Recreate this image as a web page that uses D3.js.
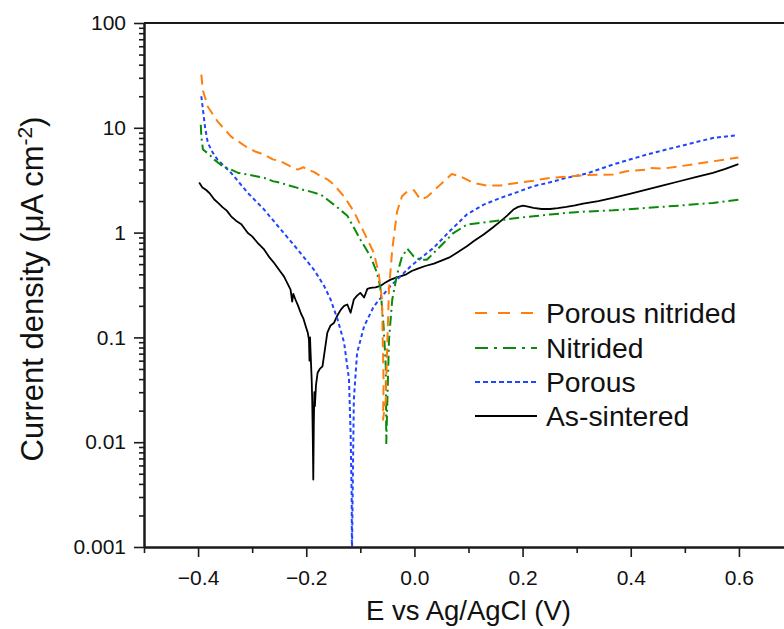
<!DOCTYPE html>
<html>
<head>
<meta charset="utf-8">
<script src="https://cdn.jsdelivr.net/npm/d3@7"></script>
<style>
  html, body { margin: 0; padding: 0; background: #fff; }
  svg { display: block; font-family: "Liberation Sans", Arial, sans-serif; }
</style>
</head>
<body>
<svg id="chart" width="784" height="629"></svg>
<script>
// ---------------- data (E in V vs Ag/AgCl, current density in µA cm^-2) ----------------
const seriesNames = ["Porous nitrided", "Nitrided", "Porous", "As-sintered"];

const porousNitrided = [
  [-0.394,32.2],[-0.391,22.6],[-0.382,15.9],[-0.364,11.5],[-0.339,8.24],[-0.308,6.43],
  [-0.293,5.9],[-0.278,5.55],[-0.262,5.0],[-0.247,4.79],[-0.230,4.3],[-0.216,3.99],
  [-0.205,4.2],[-0.198,3.99],[-0.186,3.8],[-0.173,3.45],[-0.160,3.2],[-0.149,2.87],
  [-0.130,2.21],[-0.112,1.59],[-0.093,1.0],[-0.075,0.64],[-0.066,0.41],[-0.060,0.23],
  [-0.057,0.037],[-0.058,0.0164],[-0.053,0.025],[-0.050,0.095],[-0.047,0.286],
  [-0.041,0.69],[-0.032,1.59],[-0.023,2.22],[-0.013,2.48],[-0.001,2.54],[0.011,2.07],
  [0.023,2.18],[0.048,2.87],[0.069,3.62],[0.085,3.45],[0.109,2.98],[0.134,2.81],
  [0.159,2.81],[0.189,2.98],[0.220,3.13],[0.251,3.33],[0.281,3.42],[0.318,3.54],
  [0.367,3.58],[0.392,3.85],[0.429,3.99],[0.435,4.14],[0.460,4.08],[0.490,4.29],
  [0.552,4.79],[0.599,5.2]
];

const nitrided = [
  [-0.395,10.7],[-0.394,8.2],[-0.391,6.2],[-0.380,5.6],[-0.370,4.97],[-0.355,4.3],
  [-0.339,3.99],[-0.325,3.7],[-0.308,3.58],[-0.293,3.45],[-0.278,3.33],[-0.262,3.1],
  [-0.247,2.98],[-0.230,2.8],[-0.216,2.67],[-0.205,2.55],[-0.192,2.46],[-0.173,2.30],
  [-0.160,2.05],[-0.149,1.85],
  [-0.124,1.45],[-0.100,0.86],[-0.081,0.59],[-0.069,0.41],[-0.063,0.30],[-0.057,0.128],
  [-0.053,0.053],[-0.052,0.0098],[-0.050,0.0255],[-0.047,0.095],[-0.041,0.23],
  [-0.032,0.40],[-0.023,0.59],[-0.013,0.70],[-0.001,0.59],[0.011,0.55],[0.023,0.55],
  [0.048,0.74],[0.072,0.99],[0.097,1.19],[0.128,1.25],[0.159,1.31],[0.189,1.38],
  [0.220,1.43],[0.251,1.49],[0.281,1.54],[0.318,1.59],[0.367,1.63],[0.429,1.72],
  [0.490,1.81],[0.552,1.92],[0.599,2.06]
];

const porous = [
  [-0.394,20],[-0.391,14.9],[-0.387,10],[-0.382,7.2],[-0.373,5.8],[-0.364,4.97],
  [-0.339,3.72],[-0.308,2.39],[-0.278,1.66],[-0.247,1.07],[-0.216,0.69],[-0.186,0.444],
  [-0.167,0.31],[-0.155,0.23],[-0.142,0.148],[-0.130,0.089],[-0.121,0.040],
  [-0.118,0.0124],[-0.116,0.003],[-0.1155,0.0008],[-0.114,0.004],[-0.112,0.0255],
  [-0.106,0.071],[-0.093,0.128],[-0.075,0.198],[-0.044,0.31],[-0.007,0.477],
  [0.036,0.72],[0.066,1.04],[0.097,1.49],[0.128,1.85],[0.159,2.14],[0.189,2.42],
  [0.220,2.77],[0.251,3.02],[0.281,3.33],[0.318,3.65],[0.367,4.46],[0.429,5.55],
  [0.490,6.66],[0.552,8.0],[0.598,8.5]
];

const asSintered = [
  [-0.398,3.0],[-0.392,2.7],[-0.385,2.55],[-0.378,2.35],[-0.370,2.07],[-0.362,1.9],
  [-0.355,1.75],[-0.347,1.62],[-0.339,1.43],[-0.330,1.3],[-0.320,1.2],[-0.308,0.99],
  [-0.300,0.92],[-0.290,0.8],[-0.278,0.69],[-0.268,0.58],[-0.259,0.51],[-0.250,0.44],
  [-0.241,0.38],[-0.235,0.33],[-0.229,0.286],[-0.226,0.22],[-0.224,0.26],[-0.220,0.23],
  [-0.215,0.2],[-0.210,0.17],[-0.205,0.15],[-0.201,0.128],[-0.197,0.11],[-0.195,0.095],
  [-0.194,0.06],[-0.193,0.1],[-0.192,0.072],[-0.190,0.04],[-0.189,0.0255],[-0.188,0.012],
  [-0.187,0.0044],[-0.186,0.015],[-0.185,0.03],[-0.184,0.022],[-0.182,0.035],
  [-0.179,0.046],[-0.175,0.05],[-0.170,0.053],[-0.165,0.08],[-0.161,0.111],[-0.155,0.13],
  [-0.149,0.137],[-0.143,0.16],[-0.136,0.184],[-0.130,0.2],[-0.124,0.206],[-0.118,0.172],
  [-0.112,0.23],[-0.106,0.25],[-0.100,0.266],[-0.093,0.24],[-0.087,0.29],[-0.081,0.297],
  [-0.072,0.3],[-0.063,0.31],[-0.055,0.33],[-0.044,0.356],[-0.035,0.37],[-0.026,0.383],
  [-0.015,0.40],[-0.005,0.43],[0.005,0.45],[0.020,0.48],[0.036,0.506],[0.050,0.54],
  [0.066,0.584],[0.080,0.65],[0.097,0.74],[0.110,0.83],[0.128,0.96],[0.145,1.12],
  [0.159,1.28],[0.172,1.46],[0.183,1.66],[0.192,1.76],[0.201,1.81],[0.210,1.77],
  [0.220,1.72],[0.235,1.68],[0.251,1.68],[0.265,1.71],[0.281,1.76],[0.297,1.82],
  [0.312,1.89],[0.340,2.0],[0.367,2.14],[0.400,2.35],[0.429,2.57],[0.460,2.82],
  [0.490,3.09],[0.520,3.38],[0.552,3.72],[0.575,4.05],[0.599,4.5]
];

const xTickValues = [-0.4, -0.2, 0.0, 0.2, 0.4, 0.6];
const xTickLabels = ["\u22120.4", "\u22120.2", "0.0", "0.2", "0.4", "0.6"];
const xMinorTicks = [-0.5, -0.3, -0.1, 0.1, 0.3, 0.5];
const yTickValues = [0.001, 0.01, 0.1, 1, 10, 100];
const yTickLabels = ["0.001", "0.01", "0.1", "1", "10", "100"];

// ---------------- layout ----------------
const svg = d3.select("#chart");
const M = { left: 144, right: 793, top: 23, bottom: 547 };
const x = d3.scaleLinear().domain([-0.5, 0.7]).range([M.left, M.right]);
const y = d3.scaleLog().domain([0.001, 100]).range([M.bottom, M.top]);

const styles = [
  { data: porousNitrided, color: "#ff7f0e", dash: "10,6",   width: 2.0 },
  { data: nitrided,       color: "#0a8a0a", dash: "10,4,2,4", width: 2.0 },
  { data: porous,         color: "#1f45ff", dash: "4,3",    width: 2.0 },
  { data: asSintered,     color: "#000000", dash: null,     width: 1.8 }
];
const legendDash = ["12,11", "13,6,3,6", "5,3", null];

svg.append("defs").append("clipPath").attr("id", "plotclip")
  .append("rect").attr("x", M.left).attr("y", M.top)
  .attr("width", M.right - M.left).attr("height", M.bottom - M.top);

const line = d3.line().x(d => x(d[0])).y(d => y(d[1]));
const plot = svg.append("g").attr("clip-path", "url(#plotclip)");
[3, 2, 1, 0].forEach(i => {
  const s = styles[i];
  plot.append("path").datum(s.data)
    .attr("d", line).attr("fill", "none")
    .attr("stroke", s.color).attr("stroke-width", s.width)
    .attr("stroke-linejoin", "round")
    .attr("stroke-dasharray", s.dash);
});

// ---------------- axes ----------------
const axisColor = "#1a1a1a";
function styleAxis(g) {
  g.selectAll(".domain").attr("stroke", axisColor).attr("stroke-width", 2);
  g.selectAll(".tick line").attr("stroke", axisColor).attr("stroke-width", 1.6);
  g.selectAll(".tick text").attr("fill", "#111").attr("font-size", 21)
    .attr("font-family", "'Liberation Sans', Arial, sans-serif");
}

const xAxis = svg.append("g").attr("transform", `translate(0,${M.bottom})`)
  .call(d3.axisBottom(x).tickValues(xTickValues).tickSize(10).tickPadding(8)
    .tickFormat((d, i) => xTickLabels[i]).tickSizeOuter(0));
styleAxis(xAxis);
xAxis.selectAll(".tick text").attr("dy", "0.95em");
const xMinor = svg.append("g").attr("transform", `translate(0,${M.bottom})`)
  .call(d3.axisBottom(x).tickValues(xMinorTicks).tickSize(6).tickFormat("").tickSizeOuter(0));
styleAxis(xMinor);

const yAxis = svg.append("g").attr("transform", `translate(${M.left},0)`)
  .call(d3.axisLeft(y).tickValues(yTickValues).tickSize(10).tickPadding(8)
    .tickFormat((d, i) => yTickLabels[i]).tickSizeOuter(0));
styleAxis(yAxis);
const yMinorVals = [];
[0.001, 0.01, 0.1, 1, 10].forEach(dec => { for (let k = 2; k <= 9; k++) yMinorVals.push(dec * k); });
const yMinor = svg.append("g").attr("transform", `translate(${M.left},0)`)
  .call(d3.axisLeft(y).tickValues(yMinorVals).tickSize(5).tickFormat("").tickSizeOuter(0));
styleAxis(yMinor);

svg.append("line").attr("x1", M.left).attr("x2", M.right).attr("y1", M.top).attr("y2", M.top)
  .attr("stroke", axisColor).attr("stroke-width", 2);

// axis titles
svg.append("text")
  .attr("x", (367 + 570) / 2).attr("y", 620)
  .attr("text-anchor", "middle").attr("font-size", 27.5).attr("fill", "#111")
  .text("E vs Ag/AgCl (V)");

const yt = svg.append("text")
  .attr("transform", "translate(43,289) rotate(-90)")
  .attr("text-anchor", "middle").attr("font-size", 31).attr("fill", "#111");
yt.append("tspan").text("Current density (\u03bcA cm");
yt.append("tspan").attr("dy", -11).attr("font-size", 21).text("-2");
yt.append("tspan").attr("dy", 11).text(")");

// ---------------- legend ----------------
const legendY = [313, 348, 382, 416];
const lg = svg.append("g");
seriesNames.forEach((name, i) => {
  const s = styles[i];
  lg.append("line").attr("x1", 475).attr("x2", 537)
    .attr("y1", legendY[i]).attr("y2", legendY[i])
    .attr("stroke", s.color).attr("stroke-width", 2.2)
    .attr("stroke-dasharray", legendDash[i]);
  lg.append("text").attr("x", 546).attr("y", legendY[i]).attr("dy", "0.35em")
    .attr("font-size", 28.3).attr("fill", "#111").text(name);
});
</script>
</body>
</html>
